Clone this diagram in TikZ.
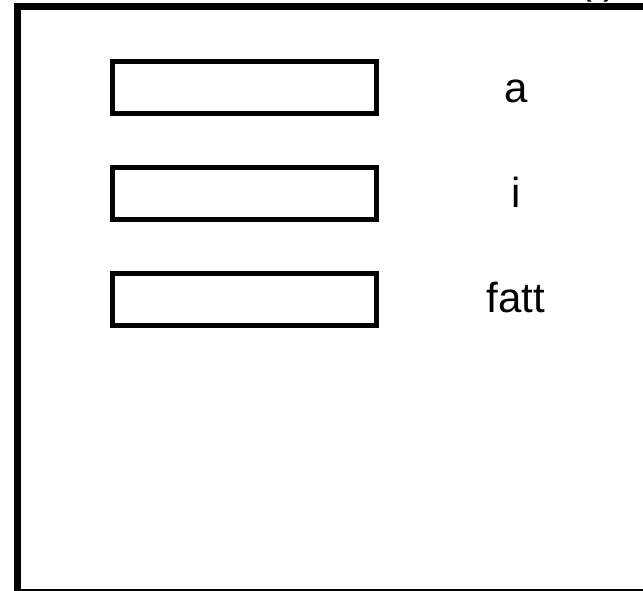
\documentclass[tikz,border=0pt]{standalone}
\usepackage{fontspec}
\setmainfont{Liberation Sans}
\usepackage{tikz}

\tikzset{
	varbox/.style={draw, line width=4.7pt, minimum width=264.4pt, minimum height=52pt, inner sep=0pt},
	varname/.style={font=\fontsize{42}{50}\selectfont, anchor=base, inner sep=0pt}
}

\begin{document}
\begin{tikzpicture}[x=1pt, y=-1pt]
		
		\useasboundingbox (0,0) rectangle (643,591);
		
		%%% frame
		\draw[line width=7pt] (17.5,6.5) rectangle (720,592);
		\node[varname] (title) at (598,-6.5) {(\ )};
		
		%%% variables
		\node[varbox] (boxa) at (244.5,87.3) {};
		\node[varbox] (boxi) at (244.5,193.3) {};
		\node[varbox] (boxfatt) at (244.5,299.5) {};
		
		%%% names
		\node[varname] (namea) at (516,103) {a};
		\node[varname] (namei) at (516,207.5) {i};
		\node[varname] (namefatt) at (516,312) {fatt};
		
	\end{tikzpicture}
\end{document}
